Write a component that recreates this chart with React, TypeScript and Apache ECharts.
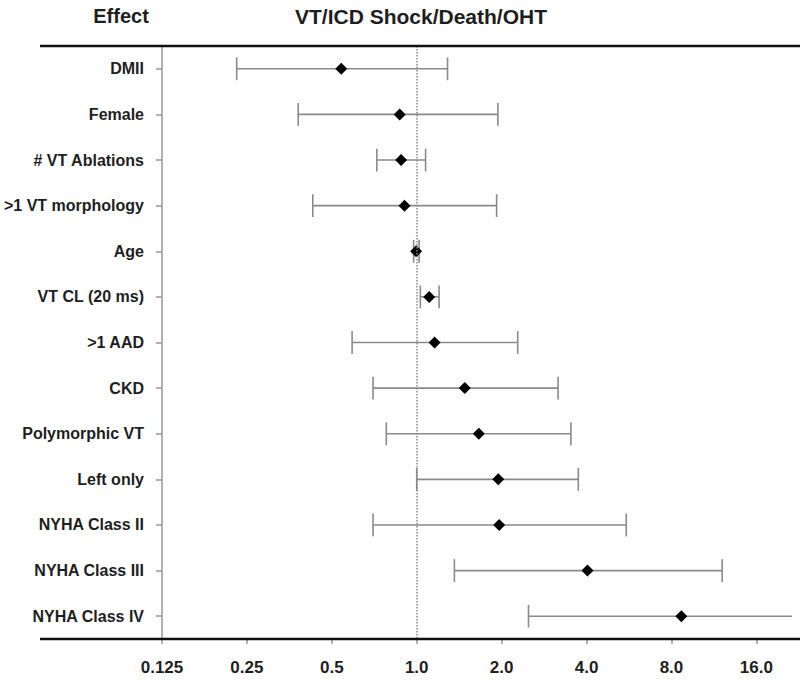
import React, { useEffect, useRef } from "react";
import * as echarts from "echarts";

const categories = [
  "DMII",
  "Female",
  "# VT Ablations",
  ">1 VT morphology",
  "Age",
  "VT CL (20 ms)",
  ">1 AAD",
  "CKD",
  "Polymorphic VT",
  "Left only",
  "NYHA Class II",
  "NYHA Class III",
  "NYHA Class IV",
];
const hazard = [0.54, 0.87, 0.88, 0.905, 0.995, 1.107, 1.157, 1.48, 1.66, 1.945, 1.96, 4.03, 8.67];
const lowerCI = [0.23, 0.38, 0.722, 0.428, 0.975, 1.03, 0.59, 0.7, 0.78, 1.0, 0.7, 1.36, 2.49];
const upperCI = [1.286, 1.94, 1.075, 1.92, 1.02, 1.2, 2.28, 3.17, 3.52, 3.74, 5.53, 12.1, 22.5];
const axisMin = 0.125;
const axisMax = 21.4;

const FONT = "'Liberation Sans', Arial, sans-serif";

export default function App() {
  const ref = useRef<HTMLDivElement>(null);
  useEffect(() => {
    document.body.style.margin = "0";
    if (!ref.current) return;
    const chart = echarts.init(ref.current, undefined, { renderer: "svg" });
    const errData = categories.map((_, i) => [lowerCI[i], upperCI[i], i]);
    const ptData = categories.map((_, i) => [hazard[i], i]);
    chart.setOption({
      animation: false,
      grid: { left: 162, right: 8, top: 46, bottom: 41 },
      xAxis: {
        type: "log",
        logBase: 2,
        min: axisMin,
        max: axisMax,
        splitNumber: 8,
        axisLine: { show: false },
        axisTick: { show: true, length: 5, lineStyle: { color: "#999", width: 1.5 } },
        splitLine: { show: false },
        minorTick: { show: false },
        axisLabel: {
          showMaxLabel: false,
          margin: 20,
          color: "#1e1e1e",
          fontFamily: FONT,
          fontWeight: "bold",
          fontSize: 17,
          formatter: (v: number) => {
            const n = Number(v.toPrecision(6));
            return n < 1 ? String(n) : n.toFixed(1);
          },
        },
      },
      yAxis: {
        type: "category",
        data: categories,
        inverse: true,
        axisLine: { show: true, lineStyle: { color: "#999", width: 1.5 } },
        axisTick: { show: true, length: 6, alignWithLabel: true, lineStyle: { color: "#999", width: 1.5 } },
        splitLine: { show: false },
        axisLabel: {
          margin: 18,
          color: "#1e1e1e",
          fontFamily: FONT,
          fontWeight: "bold",
          fontSize: 16,
        },
      },
      graphic: [
        {
          type: "line",
          shape: { x1: 40, y1: 46, x2: 800, y2: 46 },
          style: { stroke: "#111", lineWidth: 2.5 },
          z: 10,
        },
        {
          type: "line",
          shape: { x1: 40, y1: 639, x2: 800, y2: 639 },
          style: { stroke: "#111", lineWidth: 2.5 },
          z: 10,
        },
        {
          type: "text",
          x: 121,
          y: 16,
          style: {
            text: "Effect",
            fill: "#1e1e1e",
            font: `bold 20px ${FONT}`,
            textAlign: "center",
            textVerticalAlign: "middle",
          },
        },
        {
          type: "text",
          x: 421,
          y: 16,
          style: {
            text: "VT/ICD Shock/Death/OHT",
            fill: "#1e1e1e",
            font: `bold 21px ${FONT}`,
            textAlign: "center",
            textVerticalAlign: "middle",
          },
        },
      ],
      series: [
        {
          type: "custom",
          data: errData,
          encode: { x: [0, 1], y: 2 },
          clip: false,
          z: 2,
          renderItem: (params: any, api: any) => {
            const yi = api.value(2);
            const lo = api.coord([api.value(0), yi]);
            const hi = api.coord([api.value(1), yi]);
            const cs = params.coordSys;
            const right = cs.x + cs.width;
            const clipped = hi[0] > right;
            const hx = Math.min(hi[0], right);
            const half = api.size([0, 1])[1] * 0.25;
            const st = { stroke: "#8a8a8a", lineWidth: 1.6 };
            const children: any[] = [
              { type: "line", shape: { x1: lo[0], y1: lo[1], x2: hx, y2: lo[1] }, style: st },
              { type: "line", shape: { x1: lo[0], y1: lo[1] - half, x2: lo[0], y2: lo[1] + half }, style: st },
            ];
            if (!clipped) {
              children.push({
                type: "line",
                shape: { x1: hi[0], y1: hi[1] - half, x2: hi[0], y2: hi[1] + half },
                style: st,
              });
            }
            return { type: "group", children };
          },
        },
        {
          type: "scatter",
          data: ptData,
          symbol: "diamond",
          symbolSize: 12,
          itemStyle: { color: "#000", opacity: 1 },
          z: 3,
          markLine: {
            silent: true,
            symbol: "none",
            label: { show: false },
            lineStyle: { type: "dotted", color: "#888", width: 1.5 },
            data: [{ xAxis: 1 }],
          },
        },
      ],
    });
    return () => chart.dispose();
  }, []);
  return <div ref={ref} style={{ width: 800, height: 680 }} />;
}
